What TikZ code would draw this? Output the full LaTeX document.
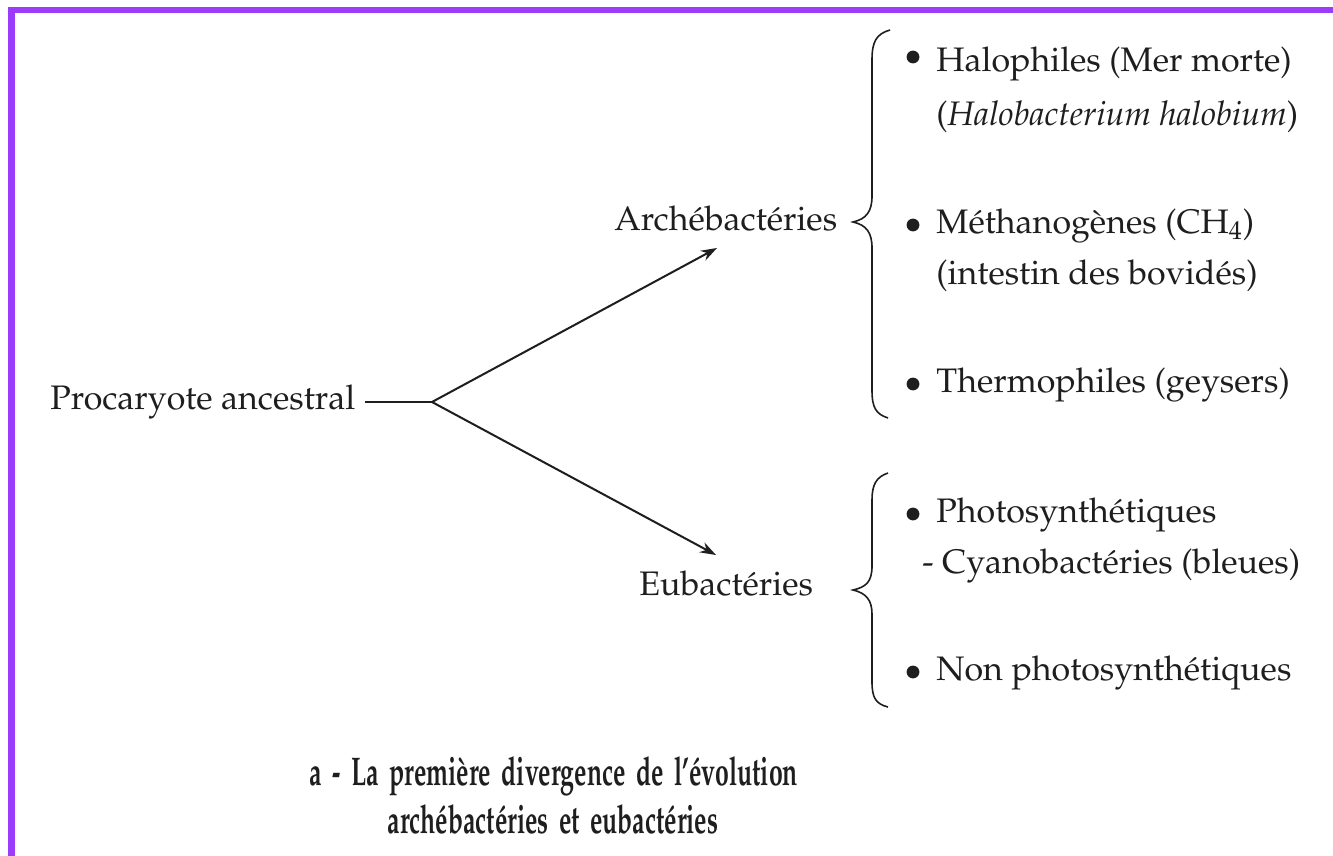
\documentclass[tikz,border=0pt]{standalone}
\usepackage[T1]{fontenc}
\usepackage{mathpazo}
\usetikzlibrary{arrows.meta}
\definecolor{frame}{RGB}{155,60,250}
\definecolor{ink}{RGB}{30,30,30}
\newcommand{\captionline}[1]{\scalebox{0.62}[1]{\spaceskip=0.42em\relax #1}}
\begin{document}
\begin{tikzpicture}[x=0.5pt,y=-0.5pt,
  txt/.style={inner sep=0pt,anchor=base west,text=ink,font=\fontsize{17}{20}\selectfont},
  bul/.style={circle,fill=ink,inner sep=0pt,minimum size=6.4pt},
  conn/.style={draw=ink,line width=1pt},
  arr/.style={draw=ink,line width=1pt,-{Stealth[length=8pt,width=5.5pt]}},
  br/.style={draw=ink,line width=0.8pt},
  captxt/.style={inner sep=0pt,anchor=base,text=ink,font=\fontsize{20}{24}\selectfont\bfseries}]
\useasboundingbox (0,0) rectangle (1333,856);
\fill[white] (0,0) rectangle (1333,856);
\fill[frame] (8,7) rectangle (1333,13);
\fill[frame] (8,7) rectangle (15,856);

% root and branches
\node[txt] (proc) at (50,409) {Procaryote ancestral};
\coordinate (split) at (432,402);
\coordinate (start) at (365,402);
\draw[conn] (start) -- (split);
\node[txt] (arch) at (614,230) {Arch\'ebact\'eries};
\node[txt] (eub) at (639,595) {Eubact\'eries};
\coordinate (atip) at (717,248);
\coordinate (etip) at (716,555);
\draw[arr] (split) -- (atip);
\draw[arr] (split) -- (etip);

% braces
\draw[br] (890,30) .. controls (876,34) and (872,42) .. (872,60) -- (872,196)
  .. controls (872,212) and (866,219) .. (853,222)
  .. controls (866,225) and (872,232) .. (872,248) -- (872,390)
  .. controls (872,408) and (876,414) .. (888,418);
\draw[br] (888,473) .. controls (876,477) and (872,485) .. (872,500) -- (872,566)
  .. controls (872,582) and (866,587) .. (853,590)
  .. controls (866,593) and (872,600) .. (872,614) -- (872,682)
  .. controls (872,698) and (876,704) .. (888,707);

% Archaebacteria items
\node[bul] (b1) at (913,57) {};
\node[txt] (i1) at (936,72) {Halophiles (Mer morte)};
\node[txt] (i1b) at (936,126) {(\textit{Halobacterium halobium})};
\node[bul] (b2) at (913,225) {};
\node[txt] (i2) at (936,233) {M\'ethanog\`enes (CH\textsubscript{4})};
\node[txt] (i2b) at (936,284) {(intestin des bovid\'es)};
\node[bul] (b3) at (913,384) {};
\node[txt] (i3) at (936,392) {Thermophiles (geysers)};

% Eubacteria items
\node[bul] (b4) at (913,514) {};
\node[txt] (i4) at (936,522) {Photosynth\'etiques};
\node[txt] (i4b) at (922,573) {- Cyanobact\'eries (bleues)};
\node[bul] (b5) at (913,672) {};
\node[txt] (i5) at (936,680) {Non photosynth\'etiques};

% caption
\node[captxt] (c1) at (554,785) {\captionline{a - La premi\`ere divergence de l'\'evolution}};
\node[captxt] (c2) at (553,833) {\captionline{arch\'ebact\'eries et eubact\'eries}};
\end{tikzpicture}
\end{document}
